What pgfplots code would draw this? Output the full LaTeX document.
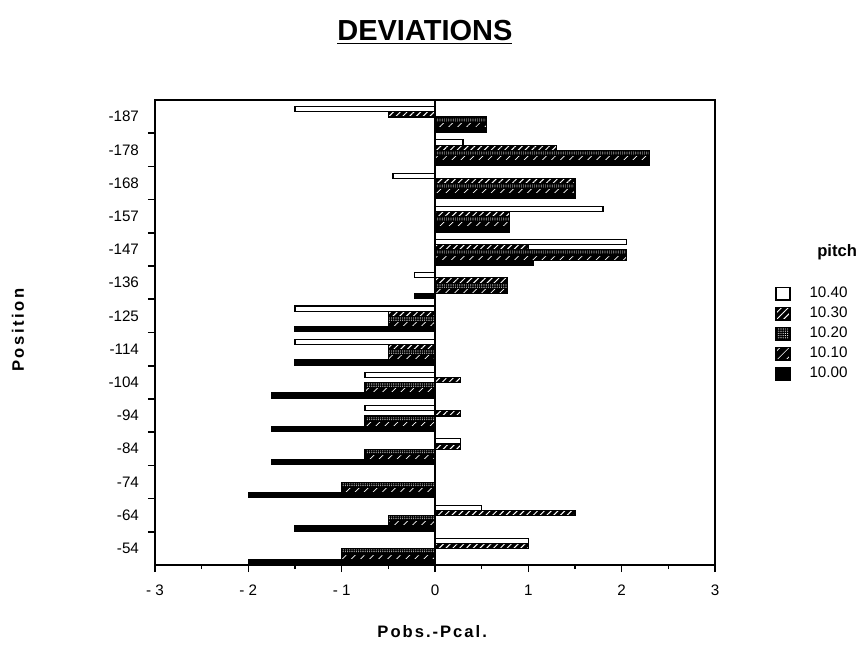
\documentclass[border=0pt]{standalone}
\usepackage{fontspec}
\setmainfont{Liberation Sans}
\usepackage{pgfplots}
\usepackage{pgfplotstable}
\pgfplotsset{compat=1.18}
\usetikzlibrary{patterns.meta}

\pgfplotstableread{
pos  a     b     c     d     e
0   -1.5  -0.5   0.55  0.55  0.55
1    0.3   1.3   2.3   2.3   2.3
2   -0.45  1.5   1.5   1.5   1.5
3    1.8   0.8   0.8   0.8   0.8
4    2.05  1.0   2.05  2.05  1.05
5   -0.22  0.78  0.78  0.78 -0.22
6   -1.5  -0.5  -0.5  -0.5  -1.5
7   -1.5  -0.5  -0.5  -0.5  -1.5
8   -0.75  0.27 -0.75 -0.75 -1.75
9   -0.75  0.27 -0.75 -0.75 -1.75
10   0.27  0.27 -0.75 -0.75 -1.75
11   0.0   0.0  -1.0  -1.0  -2.0
12   0.5   1.5  -0.5  -0.5  -1.5
13   1.0   1.0  -1.0  -1.0  -2.0
}\devdata

\pgfplotsset{
  mybar/.style={xbar, bar width=0.155, draw=black, line width=0.55pt,
    legend image code/.code={\draw[##1, line width=0.8pt] (0pt,-3.2pt) rectangle (6.8pt,3.2pt);}},
}

\begin{document}
\begin{tikzpicture}
\useasboundingbox (0,0) rectangle (431pt,324pt);
\begin{axis}[
  at={(77.5pt,41.5pt)}, anchor=south west,
  width=280pt, height=232.5pt, scale only axis,
  xmin=-3, xmax=3, ymin=-0.5, ymax=13.5,
  y dir=reverse,
  axis line style={line width=0.9pt},
  tick align=outside,
  xtick pos=left, ytick pos=left,
  xtick={-3,-2,-1,0,1,2,3},
  xticklabels={- 3,- 2,- 1,0,1,2,3},
  minor x tick num=1,
  major tick length=3.5pt, minor tick length=2pt,
  every tick/.style={black, line width=0.8pt},
  ytick={0.5,1.5,...,12.5},
  yticklabels={},
  extra y ticks={0,1,...,13},
  extra y tick labels={-187,-178,-168,-157,-147,-136,-125,-114,-104,-94,-84,-74,-64,-54},
  extra y tick style={major tick length=0pt, yticklabel style={xshift=-4.5pt}},
  ticklabel style={font=\fontsize{7.6}{9}\selectfont},
  xticklabel style={yshift=-3pt},
  title={\underline{DEVIATIONS}},
  title style={font=\fontsize{14.5}{16}\selectfont\bfseries, at={(axis description cs:0.482,1.12)}, anchor=center},
  xlabel={Pobs.-Pcal.},
  xlabel style={font=\fontsize{8.3}{10}\selectfont\bfseries\addfontfeatures{LetterSpace=12}, at={(axis description cs:0.495,-0.144)}, anchor=center},
  ylabel={Position},
  ylabel style={font=\fontsize{8.3}{10}\selectfont\bfseries\addfontfeatures{LetterSpace=15}, at={(axis description cs:-0.2446,0.505)}, anchor=center},
  legend style={at={(axis description cs:1.107,0.604)}, anchor=north west, draw=none, fill=none,
    font=\fontsize{7.6}{9}\selectfont, row sep=0.8pt, inner sep=0pt,
    nodes={inner xsep=9.5pt, inner ysep=1.2pt}},
  legend cell align=left,
  clip=false,
]
\addplot[mybar, bar shift=-0.22, fill=white] table[x=a, y=pos] {\devdata};
\addlegendentry{10.40}
\addplot[mybar, bar shift=-0.065, fill=black,
  postaction={pattern={Lines[angle=45,distance=2.4pt,line width=0.5pt]}, pattern color=white}] table[x=b, y=pos] {\devdata};
\addlegendentry{10.30}
\addplot[mybar, bar shift=0.09, fill=black,
  postaction={pattern={Dots[distance=1.1pt,radius=0.28pt]}, pattern color=white}] table[x=c, y=pos] {\devdata};
\addlegendentry{10.20}
\addplot[mybar, bar shift=0.245, fill=black,
  postaction={pattern={Lines[angle=45,distance=3.2pt,line width=0.35pt]}, pattern color=white}] table[x=d, y=pos] {\devdata};
\addlegendentry{10.10}
\addplot[mybar, bar shift=0.40, fill=black] table[x=e, y=pos] {\devdata};
\addlegendentry{10.00}
\draw[line width=0.8pt] (axis cs:0,-0.5) -- (axis cs:0,13.5);
\node[font=\fontsize{8.3}{10}\selectfont\bfseries] at (axis description cs:1.218,0.673) {pitch};
\end{axis}
\end{tikzpicture}
\end{document}
